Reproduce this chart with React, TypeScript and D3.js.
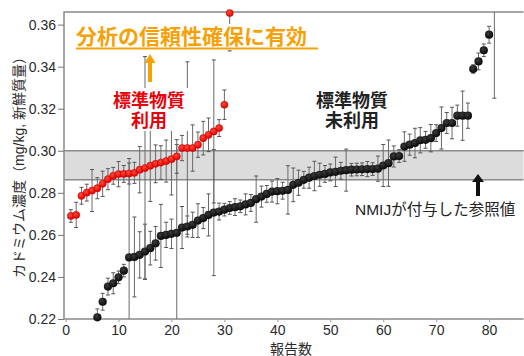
import React, { useEffect, useRef } from "react";
import * as d3 from "d3";

// 標準物質利用 (red) — report no. 1..31
const redRanks = d3.range(1, 32);
const redValues = [
    0.2690, 0.2695, 0.2786, 0.2801, 0.2811, 0.2822, 0.2843, 0.2865, 0.2881, 0.2889,
    0.2890, 0.2892, 0.2895, 0.2910, 0.2918, 0.2929, 0.2938, 0.2944, 0.2951, 0.2960,
    0.2973, 0.3013, 0.3013, 0.3013, 0.3029, 0.3060, 0.3076, 0.3092, 0.3108, 0.3219,
    0.3655
];
const redErrors = [
    0.003, 0.006, 0.004, 0.004, 0.010, 0.005, 0.006, 0.005, 0.004, 0.006,
    0.004, 0.005, 0.005, 0.011, 0.053, 0.017, 0.009, 0.008, 0.010, 0.017,
    0.008, 0.006, 0.041, 0.011, 0.006, 0.008, 0.008, 0.034, 0.004, 0.007,
    0.018
];

// 標準物質未利用 (black) — report no. 6..81 (1..5 fall below the axis, 81 above)
const blackRanks = d3.range(6, 82);
const blackValues = [
    0.2208, 0.2282, 0.2354, 0.2370, 0.2398, 0.2430, 0.2493, 0.2495, 0.2505, 0.2521,
    0.2537, 0.2560, 0.2595, 0.2600, 0.2605, 0.2610, 0.2635, 0.2640, 0.2648, 0.2668,
    0.2680, 0.2695, 0.2706, 0.2711, 0.2720, 0.2728, 0.2732, 0.2736, 0.2745, 0.2752,
    0.2770, 0.2782, 0.2795, 0.2806, 0.2808, 0.2810, 0.2814, 0.2838, 0.2848, 0.2862,
    0.2872, 0.2880, 0.2886, 0.2890, 0.2897, 0.2900, 0.2905, 0.2908, 0.2910, 0.2911,
    0.2912, 0.2913, 0.2913, 0.2915, 0.2930, 0.2941, 0.2973, 0.2975, 0.3020, 0.3029,
    0.3037, 0.3050, 0.3052, 0.3060, 0.3084, 0.3108, 0.3132, 0.3132, 0.3167, 0.3167,
    0.3167, 0.3389, 0.3425, 0.3478, 0.3552, 0.3800
];
const blackErrors = [
    0.004, 0.004, 0.004, 0.005, 0.003, 0.003, 0.047, 0.019, 0.011, 0.013,
    0.008, 0.008, 0.015, 0.006, 0.007, 0.042, 0.010, 0.005, 0.006, 0.008,
    0.005, 0.010, 0.030, 0.004, 0.003, 0.003, 0.004, 0.003, 0.005, 0.004,
    0.011, 0.005, 0.004, 0.005, 0.006, 0.004, 0.0115, 0.008, 0.006, 0.004,
    0.005, 0.007, 0.0055, 0.004, 0.004, 0.007, 0.004, 0.010, 0.003, 0.003,
    0.003, 0.0036, 0.003, 0.006, 0.010, 0.011, 0.005, 0.003, 0.007, 0.005,
    0.007, 0.006, 0.004, 0.0065, 0.004, 0.010, 0.005, 0.0075, 0.005, 0.0117,
    0.006, 0.002, 0.004, 0.003, 0.004, 0.055
];

// NMIJ reference value band
const refBand = [0.2862, 0.300];

const xTicks = [0, 10, 20, 30, 40, 50, 60, 70, 80];
const yTicks = [0.22, 0.24, 0.26, 0.28, 0.30, 0.32, 0.34, 0.36];

const FONT = "'Liberation Sans', 'Noto Sans CJK JP', sans-serif";

interface Pt { rank: number; value: number; err: number }

const App: React.FC = () => {
    const svgRef = useRef<SVGSVGElement | null>(null);

    useEffect(() => {
        if (!svgRef.current) return;
        const width = 524;
        const height = 356;
        const svg = d3.select(svgRef.current);
        svg.selectAll("*").remove();
        svg.attr("width", width).attr("height", height);

        const x = d3.scaleLinear().domain([-0.3, 86.5]).range([64, 523.5]);
        const y = d3.scaleLinear().domain([0.22, 0.366]).range([319, 12]);

        const red: Pt[] = redRanks.map((r, i) => ({ rank: r, value: redValues[i], err: redErrors[i] }));
        const black: Pt[] = blackRanks.map((r, i) => ({ rank: r, value: blackValues[i], err: blackErrors[i] }));

        const defs = svg.append("defs");
        defs.append("clipPath").attr("id", "plot-clip")
            .append("rect")
            .attr("x", x.range()[0]).attr("y", y.range()[1])
            .attr("width", x.range()[1] - x.range()[0])
            .attr("height", y.range()[0] - y.range()[1]);
        defs.append("clipPath").attr("id", "pt-clip")
            .append("rect")
            .attr("x", x.range()[0]).attr("y", 0)
            .attr("width", x.range()[1] - x.range()[0])
            .attr("height", 326);

        const rg = defs.append("radialGradient").attr("id", "red-dot").attr("cx", "40%").attr("cy", "35%").attr("r", "65%");
        rg.append("stop").attr("offset", "0%").attr("stop-color", "#ff4a3a");
        rg.append("stop").attr("offset", "100%").attr("stop-color", "#e00000");
        const bg = defs.append("radialGradient").attr("id", "black-dot").attr("cx", "40%").attr("cy", "35%").attr("r", "65%");
        bg.append("stop").attr("offset", "0%").attr("stop-color", "#3a3a3a");
        bg.append("stop").attr("offset", "100%").attr("stop-color", "#080808");

        // reference band
        svg.append("rect")
            .attr("x", x.range()[0]).attr("width", x.range()[1] - x.range()[0])
            .attr("y", y(refBand[1])).attr("height", y(refBand[0]) - y(refBand[1]))
            .attr("fill", "#dcdcdc");
        svg.selectAll("line.band")
            .data(refBand)
            .join("line")
            .attr("class", "band")
            .attr("x1", x.range()[0]).attr("x2", x.range()[1])
            .attr("y1", (d) => y(d)).attr("y2", (d) => y(d))
            .attr("stroke", "#8a8a8a").attr("stroke-width", 1.5);

        // frame
        svg.append("path")
            .attr("d", `M${x.range()[1]},${y.range()[1]}H${x.range()[0]}V${y.range()[0]}H${x.range()[1]}`)
            .attr("fill", "none").attr("stroke", "#8a8a8a").attr("stroke-width", 1.5);

        // axes
        const yAxis = svg.append("g")
            .attr("transform", `translate(${x.range()[0]},0)`)
            .call(d3.axisLeft(y).tickValues(yTicks).tickFormat(d3.format(".2f")).tickSize(6).tickPadding(2));
        yAxis.select(".domain").remove();
        yAxis.selectAll("line").attr("stroke", "#777");
        yAxis.selectAll("text").attr("fill", "#2a2a2a").style("font-family", FONT).attr("font-size", "14px");

        const xAxis = svg.append("g")
            .attr("transform", `translate(0,${y.range()[0]})`)
            .call(d3.axisBottom(x).tickValues(xTicks).tickFormat(d3.format("d")).tickSize(3).tickPadding(3));
        xAxis.select(".domain").remove();
        xAxis.selectAll("line").attr("stroke", "#999");
        xAxis.selectAll("text").attr("fill", "#2a2a2a").style("font-family", FONT).attr("font-size", "14px");

        svg.append("text")
            .attr("x", 291).attr("y", 354)
            .attr("text-anchor", "middle")
            .style("font-family", FONT).attr("font-size", "14px").attr("fill", "#2a2a2a")
            .text("報告数");

        svg.append("text")
            .attr("transform", "translate(24,164) rotate(-90)")
            .attr("text-anchor", "middle")
            .style("font-family", FONT).attr("font-size", "14px").attr("fill", "#2a2a2a")
            .text("カドミウム濃度（mg/kg, 新鮮質量）");

        // error bars
        const bars = svg.append("g").attr("clip-path", "url(#plot-clip)");
        const drawBars = (data: Pt[], cls: string) => {
            const g = bars.selectAll(`g.${cls}`).data(data).join("g").attr("class", cls);
            g.append("line")
                .attr("x1", (d) => x(d.rank)).attr("x2", (d) => x(d.rank))
                .attr("y1", (d) => y(d.value - d.err)).attr("y2", (d) => y(d.value + d.err))
                .attr("stroke", "#6a6a6a").attr("stroke-width", 1);
            [-1, 1].forEach((s) => {
                g.append("line")
                    .attr("x1", (d) => x(d.rank) - 2).attr("x2", (d) => x(d.rank) + 2)
                    .attr("y1", (d) => y(d.value + s * d.err)).attr("y2", (d) => y(d.value + s * d.err))
                    .attr("stroke", "#555").attr("stroke-width", 1);
            });
        };
        drawBars(black, "bbar");
        drawBars(red, "rbar");

        // points
        const pts = svg.append("g").attr("clip-path", "url(#pt-clip)");
        pts.selectAll("circle.black")
            .data(black)
            .join("circle")
            .attr("class", "black")
            .attr("cx", (d) => x(d.rank)).attr("cy", (d) => y(d.value))
            .attr("r", 4.1)
            .attr("fill", "url(#black-dot)");
        pts.selectAll("circle.red")
            .data(red)
            .join("circle")
            .attr("class", "red")
            .attr("cx", (d) => x(d.rank)).attr("cy", (d) => y(d.value))
            .attr("r", 3.6)
            .attr("fill", "url(#red-dot)")
            .attr("stroke", "#c00000").attr("stroke-width", 0.5);

        // annotations
        svg.append("rect").attr("x", 74).attr("y", 24).attr("width", 246).attr("height", 26).attr("fill", "#fff");
        svg.append("text")
            .attr("x", 76).attr("y", 44)
            .style("font-family", FONT).attr("font-size", "21px").attr("font-weight", "bold")
            .attr("fill", "#f5a20a")
            .text("分析の信頼性確保に有効");
        svg.append("line")
            .attr("x1", 76).attr("x2", 318).attr("y1", 48.5).attr("y2", 48.5)
            .attr("stroke", "#f5a20a").attr("stroke-width", 2);

        svg.append("path")
            .attr("d", "M148,82 V63 H144.5 L150,54 L155.5,63 H152 V82 Z")
            .attr("fill", "#f5a20a");

        svg.append("rect").attr("x", 108).attr("y", 88).attr("width", 80).attr("height", 43).attr("fill", "#fff");
        svg.append("text")
            .attr("x", 149).attr("y", 107).attr("text-anchor", "middle")
            .style("font-family", FONT).attr("font-size", "18px").attr("font-weight", "bold").attr("fill", "#e8000b")
            .text("標準物質");
        svg.append("text")
            .attr("x", 149).attr("y", 127).attr("text-anchor", "middle")
            .style("font-family", FONT).attr("font-size", "18px").attr("font-weight", "bold").attr("fill", "#e8000b")
            .text("利用");

        svg.append("rect").attr("x", 310).attr("y", 88).attr("width", 84).attr("height", 43).attr("fill", "#fff");
        svg.append("text")
            .attr("x", 352).attr("y", 107).attr("text-anchor", "middle")
            .style("font-family", FONT).attr("font-size", "18px").attr("font-weight", "bold").attr("fill", "#222")
            .text("標準物質");
        svg.append("text")
            .attr("x", 352).attr("y", 127).attr("text-anchor", "middle")
            .style("font-family", FONT).attr("font-size", "18px").attr("font-weight", "bold").attr("fill", "#222")
            .text("未利用");

        svg.append("path")
            .attr("d", "M476,196 V182 H472 L478,174 L484,182 H480 V196 Z")
            .attr("fill", "#111");
        svg.append("text")
            .attr("x", 355).attr("y", 215)
            .style("font-family", FONT).attr("font-size", "15.5px").attr("fill", "#222")
            .text("NMIJが付与した参照値");
    }, []);

    return (
        <svg ref={svgRef} style={{ position: "absolute", left: 0, top: 0, display: "block", background: "#fff" }}></svg>
    );
};

export default App;
